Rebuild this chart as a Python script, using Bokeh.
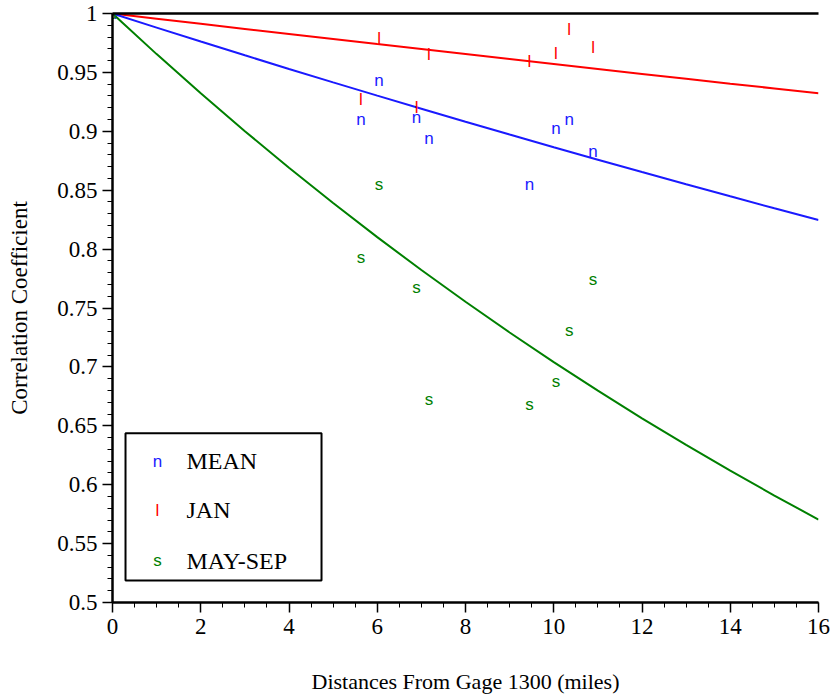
from bokeh.plotting import figure
from bokeh.models import (ColumnDataSource, Range1d, LinearAxis, CustomJSTickFormatter,
                          SingleIntervalTicker, FixedTicker, BoxAnnotation, Label)
from bokeh.core.properties import value
from bokeh.embed import file_html
from bokeh.resources import INLINE

# ---- data ----
distances = [0.0, 5.63, 6.04, 6.89, 7.17, 9.45, 10.05, 10.35, 10.89]
mean_corr = [1.0, 0.910, 0.943, 0.912, 0.894, 0.855, 0.902, 0.910, 0.883]
jan_corr = [1.0, 0.927, 0.979, 0.920, 0.965, 0.959, 0.966, 0.986, 0.971]
maysep_corr = [1.0, 0.793, 0.855, 0.767, 0.672, 0.668, 0.688, 0.731, 0.774]

fit_x = list(range(0, 17))
fit_jan = [1.0, 0.99562, 0.99127, 0.98693, 0.98261, 0.97831, 0.97403, 0.96977, 0.96553,
           0.96130, 0.95710, 0.95291, 0.94874, 0.94459, 0.94046, 0.93634, 0.93225]
fit_mean = [1.0, 0.98802, 0.97619, 0.96450, 0.95295, 0.94154, 0.93026, 0.91912, 0.90812,
            0.89724, 0.88650, 0.87588, 0.86539, 0.85503, 0.84479, 0.83467, 0.82468]
fit_maysep = [1.0, 0.96552, 0.93223, 0.90009, 0.86906, 0.83909, 0.81016, 0.78223, 0.75526,
              0.72922, 0.70408, 0.67980, 0.65637, 0.63374, 0.61188, 0.59079, 0.57042]

series_names = ["MEAN", "JAN", "MAY-SEP"]
series_symbols = ["n", "l", "s"]
series_colors = ["#1a1aff", "#ff0000", "#008000"]

SERIF = "Liberation Serif"

p = figure(width=830, height=696, output_backend="svg", toolbar_location=None,
           x_range=Range1d(0, 16), y_range=Range1d(0.5, 1.0),
           min_border_left=112, min_border_right=12, min_border_top=13, min_border_bottom=91)
p.outline_line_color = None
p.grid.visible = False

xax = p.xaxis[0]
yax = p.yaxis[0]
xax.ticker = SingleIntervalTicker(interval=2, num_minor_ticks=4)
yax.ticker = SingleIntervalTicker(interval=0.05, num_minor_ticks=5)
yax.formatter = CustomJSTickFormatter(code="return (Math.round(tick*100)/100).toString();")
p.xaxis.major_label_text_font_size = "23px"
p.yaxis.major_label_text_font_size = "23px"
p.xaxis.major_label_text_font = SERIF
p.yaxis.major_label_text_font = SERIF
p.xaxis.major_label_text_color = "black"
p.yaxis.major_label_text_color = "black"
p.xaxis.major_label_standoff = 6
p.yaxis.major_label_standoff = 5
for ax in (p.xaxis, p.yaxis):
    ax.axis_line_width = 2.5
    ax.axis_line_color = "black"
    ax.major_tick_line_color = "black"
    ax.minor_tick_line_color = "black"
    ax.major_tick_line_width = 1.5
    ax.minor_tick_line_width = 1
    ax.major_tick_in = 0
    ax.minor_tick_in = 0
    ax.major_tick_out = 10
    ax.minor_tick_out = 5
    ax.axis_label_text_font = SERIF
    ax.axis_label_text_font_style = "normal"
    ax.axis_label_text_color = "black"
p.xaxis.axis_label = "Distances From Gage 1300 (miles)"
p.yaxis.axis_label = "Correlation Coefficient"
p.xaxis.axis_label_text_font_size = "22px"
p.yaxis.axis_label_text_font_size = "23px"
p.xaxis.axis_label_standoff = 32
p.yaxis.axis_label_standoff = 22

# fitted curves
p.line(fit_x, fit_jan, line_color=series_colors[1], line_width=2)
p.line(fit_x, fit_mean, line_color=series_colors[0], line_width=2)
p.line(fit_x, fit_maysep, line_color=series_colors[2], line_width=2)

# data points as letter symbols
for vals, sym, col in [(mean_corr, "n", series_colors[0]),
                       (jan_corr, "l", series_colors[1]),
                       (maysep_corr, "s", series_colors[2])]:
    src = ColumnDataSource(dict(x=distances, y=vals, t=[sym] * len(distances)))
    p.text(x="x", y="y", text="t", source=src, text_color=col,
           text_font=value("Liberation Sans"), text_font_size="17px",
           text_align="center", text_baseline="middle")

# top border as a bare axis without ticks
top = LinearAxis(ticker=FixedTicker(ticks=[]), axis_line_width=2.5, axis_line_color="black",
                 major_tick_line_color=None, minor_tick_line_color=None,
                 major_tick_out=0, minor_tick_out=0, major_label_standoff=0)
p.add_layout(top, "above")

# legend box (drawn manually)
p.add_layout(BoxAnnotation(left=0.295, right=4.737, bottom=0.5186, top=0.6436,
                           fill_color="white", fill_alpha=1.0,
                           line_color="black", line_alpha=1.0, line_width=2))
leg_y = [0.620, 0.5785, 0.5355]
for name, sym, col, yy in zip(series_names, series_symbols, series_colors, leg_y):
    p.add_layout(Label(x=1.02, y=yy, text=sym, text_color=col,
                       text_font="Liberation Sans", text_font_size="17px",
                       text_align="center", text_baseline="middle"))
    p.add_layout(Label(x=1.677, y=yy, text=name, text_color="black",
                       text_font=SERIF, text_font_size="24px",
                       text_align="left", text_baseline="middle"))

open("out.html", "w").write(file_html(p, INLINE))
